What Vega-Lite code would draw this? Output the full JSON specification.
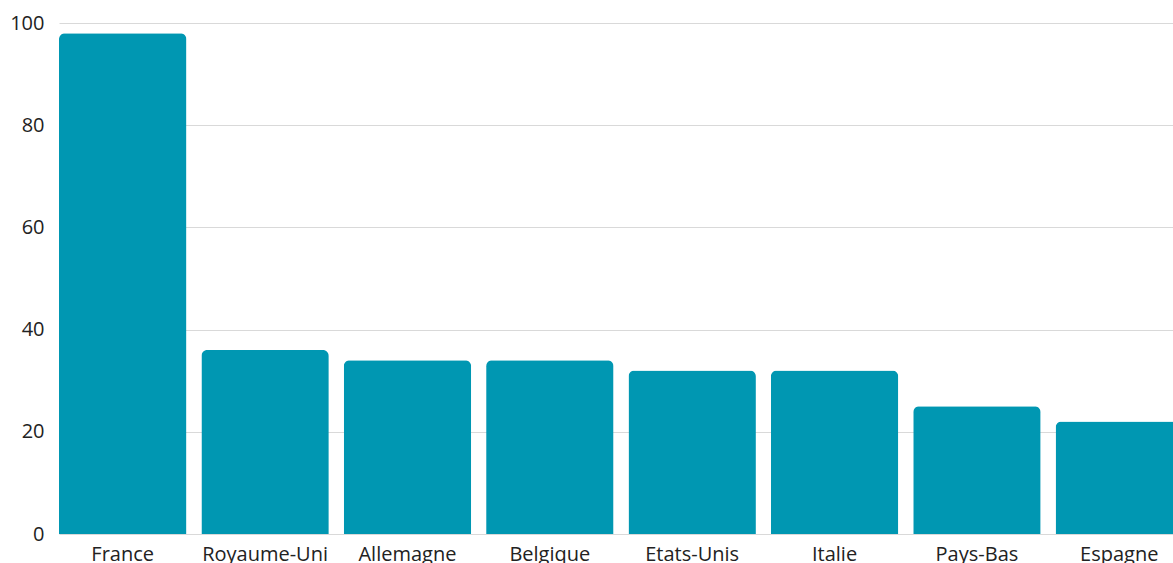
{
  "$schema": "https://vega.github.io/schema/vega-lite/v6.json",
  "autosize": {"type": "none"},
  "width": 1114,
  "height": 511,
  "padding": {"left": 59, "top": 23, "right": 0, "bottom": 29},
  "background": "white",
  "config": {
    "font": "Open Sans",
    "view": {"stroke": null}
  },
  "data": {
    "values": [
      {"pays": "France", "valeur": 98},
      {"pays": "Royaume-Uni", "valeur": 36},
      {"pays": "Allemagne", "valeur": 34},
      {"pays": "Belgique", "valeur": 34},
      {"pays": "Etats-Unis", "valeur": 32},
      {"pays": "Italie", "valeur": 32},
      {"pays": "Pays-Bas", "valeur": 25},
      {"pays": "Espagne", "valeur": 22}
    ]
  },
  "mark": {"type": "bar", "color": "#0097B2", "cornerRadiusTopLeft": 6, "cornerRadiusTopRight": 6},
  "encoding": {
    "x": {
      "field": "pays",
      "type": "nominal",
      "sort": null,
      "scale": {"range": [0, 1124], "paddingInner": 0.105, "paddingOuter": 0},
      "axis": {
        "title": null,
        "labelAngle": 0,
        "labelFontSize": 20,
        "labelColor": "#222",
        "labelPadding": 10,
        "ticks": false,
        "domain": false,
        "grid": false
      }
    },
    "y": {
      "field": "valeur",
      "type": "quantitative",
      "scale": {"domain": [0, 100]},
      "axis": {
        "title": null,
        "values": [0, 20, 40, 60, 80, 100],
        "labelFontSize": 20,
        "labelColor": "#222",
        "labelPadding": 15,
        "ticks": false,
        "domain": false,
        "gridColor": "#d9d9d9",
        "gridWidth": 1
      }
    }
  }
}
